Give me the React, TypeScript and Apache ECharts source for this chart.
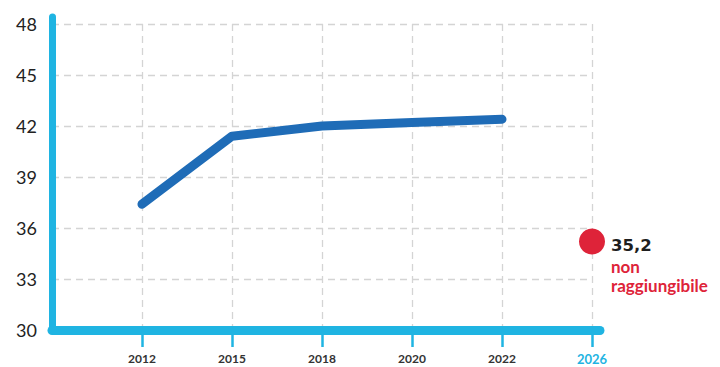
import React, { useEffect, useRef } from "react";
import * as echarts from "echarts";

// Categories along the bottom axis (first slot is the origin, left blank)
const years = ["2012", "2015", "2018", "2020", "2022"];
const targetYear = "2026";
const categories = ["", ...years, targetYear];

// Observed values
const values = [37.4, 41.4, 42.0, 42.2, 42.4];

// Target value for 2026
const targetValue = 35.2;
const targetLabel = "35,2";
const targetNote = ["non", "raggiungibile"];

// Value axis
const yMin = 30;
const yMax = 48;
const yStep = 3;

const CYAN = "#1fb4e2";
const BLUE = "#1f6cb7";
const RED = "#de2339";
const FONT = "Lato, 'Open Sans', sans-serif";

export default function App() {
  const ref = useRef<HTMLDivElement>(null);

  useEffect(() => {
    if (!ref.current) return;
    const chart = echarts.init(ref.current, undefined, { renderer: "svg" });

    const lineData = values.map((v, i) => [years[i], v]);

    chart.setOption({
      animation: false,
      backgroundColor: "#ffffff",
      textStyle: { fontFamily: FONT },
      grid: [
        // plotting area
        { left: 52, right: 128, top: 24, bottom: 37 },
        // frame for the long axis strokes
        { left: 52, right: 120, top: 17, bottom: 37 },
      ],
      xAxis: [
        {
          type: "category",
          gridIndex: 0,
          data: categories,
          boundaryGap: false,
          axisLine: { show: false },
          axisTick: {
            show: true,
            interval: (index: number) => index > 0,
            length: 17,
            lineStyle: { color: CYAN, width: 2.5 },
          },
          axisLabel: {
            interval: 0,
            margin: 22,
            color: "#333333",
            fontSize: 12,
            fontWeight: "bold",
            fontFamily: FONT,
            formatter: (v: string) => (v === targetYear ? `{hi|${v}}` : v),
            rich: {
              hi: { color: CYAN, fontSize: 13, fontWeight: "bold", fontFamily: FONT },
            },
          },
          splitLine: {
            show: true,
            interval: 0,
            lineStyle: { color: "#d4d4d4", width: 1.3, type: [7, 5] },
          },
        },
        {
          type: "value",
          gridIndex: 1,
          min: 0,
          max: 1,
          axisLine: {
            show: true,
            onZero: false,
            lineStyle: { color: CYAN, width: 9, cap: "round" },
          },
          axisTick: { show: false },
          axisLabel: { show: false },
          splitLine: { show: false },
        },
      ],
      yAxis: [
        {
          type: "value",
          gridIndex: 0,
          min: yMin,
          max: yMax,
          interval: yStep,
          axisLine: { show: false },
          axisTick: { show: false },
          axisLabel: {
            margin: 15,
            color: "#222222",
            fontSize: 18,
            fontFamily: FONT,
          },
          splitLine: {
            show: true,
            lineStyle: { color: "#d4d4d4", width: 1.3, type: [7, 5] },
          },
        },
        {
          type: "value",
          gridIndex: 1,
          min: 0,
          max: 1,
          axisLine: {
            show: true,
            onZero: false,
            lineStyle: { color: CYAN, width: 7, cap: "round" },
          },
          axisTick: { show: false },
          axisLabel: { show: false },
          splitLine: { show: false },
        },
      ],
      series: [
        {
          type: "line",
          xAxisIndex: 0,
          yAxisIndex: 0,
          data: lineData,
          showSymbol: false,
          symbol: "none",
          z: 5,
          lineStyle: { color: BLUE, width: 9, cap: "round", join: "round" },
        },
        {
          type: "scatter",
          xAxisIndex: 0,
          yAxisIndex: 0,
          data: [[targetYear, targetValue]],
          symbol: "circle",
          symbolSize: 26,
          z: 6,
          itemStyle: { color: RED, opacity: 1 },
          label: {
            show: true,
            opacity: 1,
            position: [32, 5],
            align: "left",
            verticalAlign: "top",
            formatter: () =>
              `{a|${targetLabel}}\n` + targetNote.map((t) => `{b|${t}}`).join("\n"),
            rich: {
              a: {
                fontSize: 16.5,
                fontWeight: "bold",
                color: "#1e1e1e",
                lineHeight: 23,
                fontFamily: "'DejaVu Sans', sans-serif",
              },
              b: {
                fontSize: 17,
                fontWeight: "bold",
                color: RED,
                lineHeight: 19,
                fontFamily: FONT,
              },
            },
          },
        },
      ],
    });

    return () => chart.dispose();
  }, []);

  return (
    <div
      ref={ref}
      style={{ position: "fixed", left: 0, top: 0, width: 720, height: 367 }}
    />
  );
}
